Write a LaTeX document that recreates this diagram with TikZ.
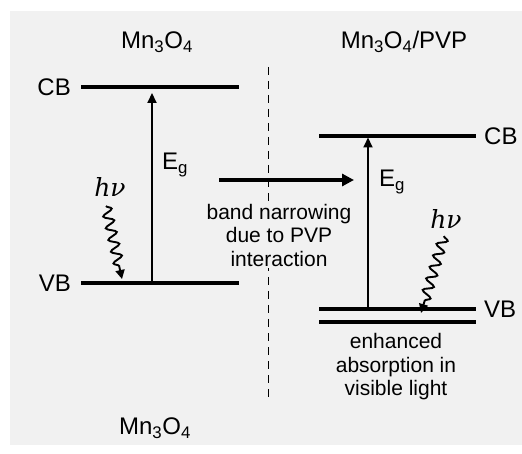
\documentclass[tikz,border=0pt]{standalone}
\usepackage{fontspec}
\setmainfont{Liberation Sans}
\newfontfamily\hvfont{DejaVu Serif}
\usetikzlibrary{arrows.meta, positioning, decorations.pathmorphing}
\definecolor{bggray}{gray}{0.945}

\begin{document}
\begin{tikzpicture}[
    x=1pt, y=-1pt,
    band/.style={line width=3.6pt},
    gaparrow/.style={line width=2pt, -{Triangle[length=10pt,width=9pt]}},
    shiftarrow/.style={line width=3.4pt, -{Triangle[length=12pt,width=12pt]}},
    photon/.style={line width=1.9pt, decorate, decoration={snake, segment length=12pt, amplitude=5pt, post length=8pt}, -{Triangle[length=9pt,width=9pt]}},
    lvl/.style={font=\fontsize{24}{26}\selectfont, inner sep=0pt},
    hvlabel/.style={font=\hvfont\itshape\fontsize{25}{27}\selectfont, inner sep=0pt},
    note/.style={font=\fontsize{21}{23.5}\selectfont, align=center, inner sep=2pt, fill=bggray}
]
\useasboundingbox (0,0) rectangle (522,454);
\fill[bggray] (10,11) rectangle (522,445);

% Mn3O4 (left)
\node[lvl] (ttlL) at (157,42) {Mn\textsubscript{3}O\textsubscript{4}};
\coordinate (cbLa) at (81,87);
\coordinate (cbLb) at (239,87);
\coordinate (vbLa) at (81,283);
\coordinate (vbLb) at (239,283);
\draw[band] (cbLa) -- (cbLb);
\draw[band] (vbLa) -- (vbLb);
\node[lvl, left=10pt of cbLa] (cbL) {CB};
\node[lvl, left=10pt of vbLa] (vbL) {VB};
\coordinate (egLa) at (152,283);
\coordinate (egLb) at (152,87);
\draw[gaparrow, shorten >=6pt] (egLa) -- (egLb);
\node[lvl] (egL) at (175,165) {E\textsubscript{g}};
\node[hvlabel] (hvL) at (110,187) {hν};
\coordinate (hvLa) at (106,206);
\coordinate (hvLb) at (122,279);
\draw[photon] (hvLa) -- (hvLb);
\node[lvl] (ttlB) at (155,428) {Mn\textsubscript{3}O\textsubscript{4}};

% divider and shift
\coordinate (divTop) at (268,67);
\coordinate (divBot) at (268,398);
\draw[line width=1pt, dash pattern=on 8pt off 6pt] (divTop) -- (divBot);
\coordinate (shiftA) at (219,180);
\coordinate (shiftB) at (354,180);
\draw[shiftarrow] (shiftA) -- (shiftB);
\node[note] (narrow) at (279,235) {band narrowing\\due to PVP\\interaction};

% Mn3O4/PVP (right)
\node[lvl] (ttlR) at (404,42) {Mn\textsubscript{3}O\textsubscript{4}/PVP};
\coordinate (cbRa) at (319,136);
\coordinate (cbRb) at (476,136);
\coordinate (vbRa) at (319,309);
\coordinate (vbRb) at (476,309);
\coordinate (vbR2a) at (319,322);
\coordinate (vbR2b) at (476,322);
\draw[band] (cbRa) -- (cbRb);
\draw[band] (vbRa) -- (vbRb);
\draw[band] (vbR2a) -- (vbR2b);
\node[lvl, right=8pt of cbRb] (cbR) {CB};
\node[lvl, right=8pt of vbRb] (vbR) {VB};
\coordinate (egRa) at (368,309);
\coordinate (egRb) at (368,136);
\draw[gaparrow, shorten >=1.5pt] (egRa) -- (egRb);
\node[lvl] (egR) at (392,182) {E\textsubscript{g}};
\node[hvlabel] (hvR) at (446,219) {hν};
\coordinate (hvRa) at (444,236);
\coordinate (hvRb) at (421,313);
\draw[photon] (hvRa) -- (hvRb);
\node[note, fill=none] (absorb) at (396,367) {enhanced\\absorption in\\visible light};
\end{tikzpicture}
\end{document}
